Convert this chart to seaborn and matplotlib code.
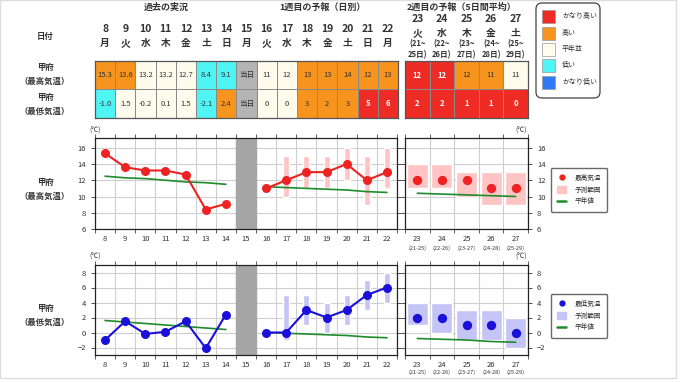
import numpy as np
import pandas as pd
import matplotlib
matplotlib.use('Agg')
import matplotlib.pyplot as plt
import matplotlib.transforms as mtrans
from matplotlib.colors import ListedColormap
from matplotlib.patches import Patch, Rectangle, FancyBboxPatch
from matplotlib.lines import Line2D
import seaborn as sns

sns.set_style('white')
plt.rcParams['font.family'] = ['Noto Sans CJK JP', 'DejaVu Sans']

# ---- データ ----
days1 = [8, 9, 10, 11, 12, 13, 14, 15, 16, 17, 18, 19, 20, 21, 22]
wd1 = ['月', '火', '水', '木', '金', '土', '日', '月', '火', '水', '木', '金', '土', '日', '月']
days2 = [23, 24, 25, 26, 27]
wd2 = ['火', '水', '木', '金', '土']
span2_a = ['(21~', '(22~', '(23~', '(24~', '(25~']
span2_b = ['25日)', '26日)', '27日)', '28日)', '29日)']
span2_tick = ['(21-25)', '(22-26)', '(23-27)', '(24-28)', '(25-29)']

# 階級: 0 かなり低い 1 低い 2 平年並 3 高い 4 かなり高い 5 当日
tmax_lab1 = ['15.3', '13.6', '13.2', '13.2', '12.7', '8.4', '9.1', '当日', '11', '12', '13', '13', '14', '12', '13']
tmax_cls1 = [3, 3, 2, 2, 2, 1, 1, 5, 2, 2, 3, 3, 3, 3, 3]
tmin_lab1 = ['-1.0', '1.5', '-0.2', '0.1', '1.5', '-2.1', '2.4', '当日', '0', '0', '3', '2', '3', '5', '6']
tmin_cls1 = [1, 2, 2, 2, 2, 1, 3, 5, 2, 2, 3, 3, 3, 4, 4]
tmax_lab2 = ['12', '12', '12', '11', '11']
tmax_cls2 = [4, 4, 3, 3, 2]
tmin_lab2 = ['2', '2', '1', '1', '0']
tmin_cls2 = [4, 4, 4, 4, 4]

obs_days = [8, 9, 10, 11, 12, 13, 14]
obs_max = [15.3, 13.6, 13.2, 13.2, 12.7, 8.4, 9.1]
obs_min = [-1.0, 1.5, -0.2, 0.1, 1.5, -2.1, 2.4]
norm_max_obs = [12.5, 12.3, 12.2, 12.0, 11.8, 11.7, 11.5]
norm_min_obs = [1.6, 1.4, 1.2, 1.0, 0.8, 0.6, 0.4]

fc_days = [16, 17, 18, 19, 20, 21, 22]
fc_max = [11, 12, 13, 13, 14, 12, 13]
fc_max_lo = [np.nan, 10, 11, 11, 12, 9, 11]
fc_max_hi = [np.nan, 15, 15, 15, 16, 15, 16]
fc_min = [0, 0, 3, 2, 3, 5, 6]
fc_min_lo = [np.nan, -1, 1, 0, 1, 3, 4]
fc_min_hi = [np.nan, 5, 5, 4, 5, 7, 8]
norm_max_fc = [11.2, 11.1, 11.0, 10.9, 10.8, 10.6, 10.5]
norm_min_fc = [0.0, -0.1, -0.2, -0.3, -0.4, -0.6, -0.7]

w2_max = [12, 12, 12, 11, 11]
w2_max_lo = [11, 11, 10, 9, 9]
w2_max_hi = [14, 14, 13, 13, 13]
w2_min = [2, 2, 1, 1, 0]
w2_min_lo = [1, 0, -1, -1, -2]
w2_min_hi = [4, 4, 3, 3, 2]
norm_max_w2 = [10.4, 10.3, 10.2, 10.1, 10.0]
norm_min_w2 = [-0.8, -0.9, -1.0, -1.2, -1.3]

cls_colors = ['#2f7bf5', '#4ff5f5', '#fffcee', '#f7941d', '#ee2b24', '#b4b4b4']
cls_names = ['かなり高い', '高い', '平年並', '低い', 'かなり低い']
RED = '#ee2222'
PINK = '#ffc4c4'
BLUE = '#1a10d8'
LAV = '#c4c4f6'
GREEN = '#1e8c2a'
TXT = '#333333'

W, H = 680, 382
fig = plt.figure(figsize=(W / 100, H / 100), dpi=100)


def box(x0, y0, x1, y1):
    # ピクセル座標 -> figure座標
    return [x0 / W, 1 - y1 / H, (x1 - x0) / W, (y1 - y0) / H]


ov = fig.add_axes([0, 0, 1, 1], zorder=-1)
ov.set_xlim(0, W)
ov.set_ylim(H, 0)
ov.axis('off')
ov.add_patch(Rectangle((0, 0), 676, 378, fill=False, ec='#dddddd', lw=1))

# ---- 表 ----
cmap = ListedColormap(cls_colors)


def draw_table(rect, cls_rows, lab_rows):
    ax = fig.add_axes(rect)
    codes = pd.DataFrame(cls_rows)
    labels = np.array(lab_rows)
    sns.heatmap(codes, ax=ax, cmap=cmap, vmin=-0.5, vmax=5.5, cbar=False,
                linewidths=0.6, linecolor='#8a8a8a', annot=labels, fmt='',
                annot_kws={'fontsize': 5.5})
    ax.set_xticks([])
    ax.set_yticks([])
    for s in ax.spines.values():
        s.set_visible(True)
        s.set_color('#555555')
        s.set_linewidth(0.9)
    for t in ax.texts:
        cx, cy = t.get_position()
        c = np.array(cls_rows)[int(cy), int(cx)]
        if c == 4:
            t.set_color('white')
            t.set_fontweight('bold')
        else:
            t.set_color(TXT)
    return ax


tab1 = draw_table(box(95, 61, 398, 118), [tmax_cls1, tmin_cls1], [tmax_lab1, tmin_lab1])
tab2 = draw_table(box(405, 61, 528, 118), [tmax_cls2, tmin_cls2], [tmax_lab2, tmin_lab2])

tr1 = mtrans.blended_transform_factory(tab1.transData, ov.transData)
for i, (d, w) in enumerate(zip(days1, wd1)):
    ov.text(i + 0.5, 29, str(d), transform=tr1, ha='center', va='center',
            fontsize=7.5, fontweight='bold', color=TXT)
    ov.text(i + 0.5, 43, w, transform=tr1, ha='center', va='center',
            fontsize=7, fontweight='bold', color=TXT)
tr2 = mtrans.blended_transform_factory(tab2.transData, ov.transData)
for i, d in enumerate(days2):
    ov.text(i + 0.5, 19, str(d), transform=tr2, ha='center', va='center',
            fontsize=7.5, fontweight='bold', color=TXT)
    ov.text(i + 0.5, 33, wd2[i], transform=tr2, ha='center', va='center',
            fontsize=7, fontweight='bold', color=TXT)
    ov.text(i + 0.5, 44, span2_a[i], transform=tr2, ha='center', va='center',
            fontsize=5.5, fontweight='bold', color=TXT)
    ov.text(i + 0.5, 55, span2_b[i], transform=tr2, ha='center', va='center',
            fontsize=5.5, fontweight='bold', color=TXT)

ov.text(166, 7, '過去の実況', ha='center', va='center', fontsize=6.5, fontweight='bold', color=TXT)
ov.text(322, 7, '1週目の予報（日別）', ha='center', va='center', fontsize=6.5, fontweight='bold', color=TXT)
ov.text(462, 7, '2週目の予報（5日間平均）', ha='center', va='center', fontsize=6.5, fontweight='bold', color=TXT)
ov.text(45, 36, '日付', ha='center', va='center', fontsize=6, fontweight='bold', color=TXT)
for y0, lab in [(67, '甲府'), (81, '（最高気温）'), (97, '甲府'), (111, '（最低気温）'),
                (182, '甲府'), (196, '（最高気温）'), (308, '甲府'), (322, '（最低気温）')]:
    ov.text(45, y0, lab, ha='center', va='center', fontsize=6, fontweight='bold', color=TXT)

# 階級の凡例
ov.add_patch(FancyBboxPatch((536, 3), 64, 95, boxstyle='round,pad=0,rounding_size=6',
                            fc='white', ec='#444444', lw=0.9))
for k, yc in enumerate([16, 33, 49, 65, 82]):
    ov.add_patch(Rectangle((542, yc - 6.5), 13, 13, fc=cls_colors[4 - k], ec='#999999', lw=0.5))
    ov.text(562, yc, cls_names[k], ha='left', va='center', fontsize=5, color=TXT)


# ---- グラフ ----
def style_axes(ax, xlim, ylim, yticks, right):
    ax.set_xlim(xlim)
    ax.set_ylim(ylim)
    ax.set_yticks(yticks)
    ax.set_xticks(np.arange(xlim[0], xlim[1] + 0.01, 1.0), minor=True)
    ax.set_axisbelow(True)
    ax.grid(which='minor', axis='x', color='#cfcfcf', lw=0.8)
    ax.grid(which='major', axis='y', color='#cfcfcf', lw=0.8)
    ax.grid(which='major', axis='x', visible=False)
    ax.tick_params(axis='x', which='major', length=0, labelsize=5.5, pad=4, colors=TXT)
    ax.tick_params(axis='x', which='minor', length=3, top=True, bottom=True, width=0.6, color='#444444')
    ax.tick_params(axis='y', length=3, width=0.6, left=True, right=True, labelsize=5.5,
                   labelleft=not right, labelright=right, colors=TXT)
    for s in ax.spines.values():
        s.set_color('#222222')
        s.set_linewidth(0.9)
    ax.set_xlabel('')
    ax.set_ylabel('')


def week1_chart(rect, obs, norm_obs, fc, lo, hi, norm_fc, ylim, yticks, col, band):
    ax = fig.add_axes(rect)
    ax.axvspan(14.5, 15.5, color='#a6a6a6', zorder=1)
    lo = np.array(lo, dtype=float)
    hi = np.array(hi, dtype=float)
    ax.bar(fc_days, hi - lo, bottom=lo, width=0.3, color=band, zorder=1.5)
    sns.lineplot(x=obs_days, y=norm_obs, ax=ax, color=GREEN, lw=1.2, zorder=2)
    sns.lineplot(x=fc_days, y=norm_fc, ax=ax, color=GREEN, lw=1.2, zorder=2)
    sns.lineplot(x=obs_days, y=obs, ax=ax, color=col, lw=1.5, marker='o',
                 markersize=6.5, markeredgewidth=0, zorder=3)
    sns.lineplot(x=fc_days, y=fc, ax=ax, color=col, lw=1.5, marker='o',
                 markersize=6.5, markeredgewidth=0, zorder=3)
    style_axes(ax, (7.5, 22.5), ylim, yticks, False)
    ax.set_xticks(days1)
    ax.set_xticklabels([str(d) for d in days1])
    return ax


def week2_chart(rect, val, lo, hi, norm, ylim, yticks, col, band):
    ax = fig.add_axes(rect)
    lo = np.array(lo, dtype=float)
    hi = np.array(hi, dtype=float)
    ax.bar(days2, hi - lo, bottom=lo, width=0.85, color=band, zorder=1.5)
    sns.lineplot(x=days2, y=norm, ax=ax, color=GREEN, lw=1.2, zorder=2)
    sns.scatterplot(x=days2, y=val, ax=ax, color=col, s=45, linewidth=0, zorder=3)
    style_axes(ax, (22.5, 27.5), ylim, yticks, True)
    ax.set_xticks(days2)
    ax.set_xticklabels([str(d) for d in days2])
    trx = mtrans.blended_transform_factory(ax.transData, ov.transData)
    return ax, trx


axA = week1_chart(box(95, 138, 397, 229), obs_max, norm_max_obs, fc_max, fc_max_lo, fc_max_hi,
                  norm_max_fc, (6, 17.2), range(6, 17, 2), RED, PINK)
axB, trB = week2_chart(box(405, 138, 528, 229), w2_max, w2_max_lo, w2_max_hi, norm_max_w2,
                       (6, 17.2), range(6, 17, 2), RED, PINK)
axC = week1_chart(box(95, 265, 397, 355), obs_min, norm_min_obs, fc_min, fc_min_lo, fc_min_hi,
                  norm_min_fc, (-3, 9), range(-2, 9, 2), BLUE, LAV)
axD, trD = week2_chart(box(405, 265, 528, 355), w2_min, w2_min_lo, w2_min_hi, norm_min_w2,
                       (-3, 9), range(-2, 9, 2), BLUE, LAV)

for tr, y0 in [(trB, 248), (trD, 372)]:
    for d, s in zip(days2, span2_tick):
        ov.text(d, y0, s, transform=tr, ha='center', va='center', fontsize=4, color=TXT)

for x0, y0, ha in [(95, 131, 'center'), (527, 131, 'right'), (95, 257, 'center'), (527, 257, 'right')]:
    ov.text(x0, y0, '(℃)', ha=ha, va='center', fontsize=5, color=TXT)

# グラフの凡例
for yc, col, band, name in [(189.5, RED, PINK, '最高気温'), (315.5, BLUE, LAV, '最低気温')]:
    handles = [Line2D([], [], ls='', marker='o', color=col, markersize=3.5),
               Patch(color=band),
               Line2D([], [], color=GREEN, lw=1.8)]
    fig.legend(handles, [name, '予測範囲', '平年値'], loc='center',
               bbox_to_anchor=(579 / W, 1 - yc / H), fontsize=4.8, frameon=True,
               fancybox=True, edgecolor='#444444', handlelength=1.4, handleheight=1.2,
               labelspacing=0.6, borderpad=0.9, handletextpad=1.2, labelcolor=TXT)

fig.savefig('out.png', dpi=100, facecolor='white')
